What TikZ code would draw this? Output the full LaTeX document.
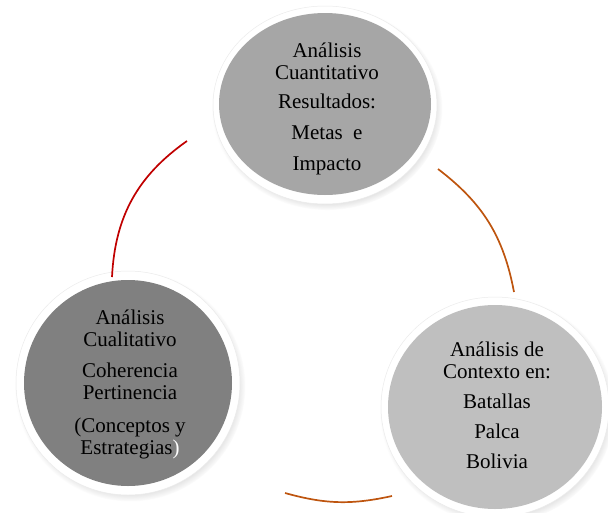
\documentclass[tikz,border=0pt]{standalone}
\usepackage{fontspec}
\setmainfont{Liberation Serif}
\usetikzlibrary{shapes.geometric,shadows}
\definecolor{topgray}{RGB}{166,166,166}
\definecolor{leftgray}{RGB}{128,128,128}
\definecolor{rightgray}{RGB}{191,191,191}
\definecolor{redline}{RGB}{192,0,0}
\definecolor{brownline}{RGB}{190,85,15}
\begin{document}
\begin{tikzpicture}[x=1pt,y=-1pt,
  ring/.style={ellipse, fill=white, draw=black!8, line width=0.5pt, inner sep=0,
    circular drop shadow={shadow xshift=2pt, shadow yshift=-3pt, shadow scale=1.03, opacity=0.45}},
  disc/.style={ellipse, inner sep=0},
  txt/.style={align=center, font=\fontsize{21}{22}\selectfont, inner sep=0},
  link/.style={line width=1.7pt}]
\useasboundingbox (0,0) rectangle (608,512);
% top circle
\node[ring, minimum width=224pt, minimum height=198pt] (topring) at (325,105) {};
\node[disc, fill=topgray, minimum width=212pt, minimum height=182pt] (topdisc) at (325,104) {};
\node[txt] (toptext) at (327,109) {Análisis\\Cuantitativo\\[7pt]Resultados:\\[9pt]Metas~~e\\[9pt]Impacto};
% left circle
\node[ring, minimum width=224pt, minimum height=224pt] (leftring) at (128,383) {};
\node[disc, fill=leftgray, minimum width=208pt, minimum height=206pt] (leftdisc) at (128,383) {};
\node[txt] (lefttext) at (130,384) {Análisis\\Cualitativo\\[9pt]Coherencia\\Pertinencia\\[11pt](Conceptos y\\Estrategias{\color{white})}};
% right circle
\node[ring, minimum width=228pt, minimum height=220pt] (rightring) at (495,407) {};
\node[disc, fill=rightgray, minimum width=214pt, minimum height=204pt] (rightdisc) at (495,407) {};
\node[txt] (righttext) at (497,405) {Análisis de\\Contexto en:\\[8pt]Batallas\\[8pt]Palca\\[8pt]Bolivia};
% connecting arcs
\coordinate (r1) at (187,141);
\coordinate (r2) at (112,277);
\coordinate (b1) at (438,169);
\coordinate (b2) at (514,292);
\coordinate (c1) at (285,493);
\coordinate (c2) at (392,496);
\draw[link, redline] (r1) to[bend right=26] (r2);
\draw[link, brownline] (b1) to[bend left=21] (b2);
\draw[link, brownline] (c1) to[bend right=14] (c2);
\end{tikzpicture}
\end{document}
